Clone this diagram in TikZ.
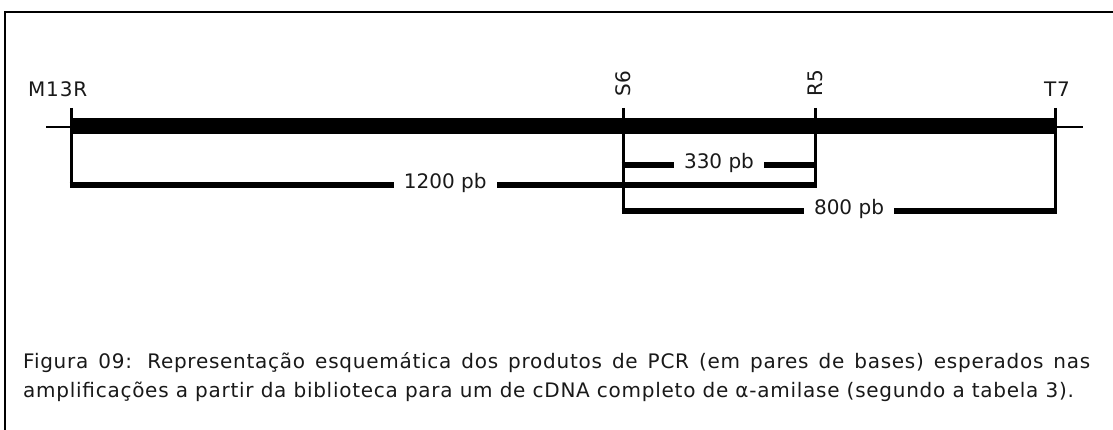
\documentclass[tikz,border=0pt]{standalone}
\usepackage{fontspec}
\setmainfont{DejaVu Sans}
\newfontfamily\capfont{DejaVu Sans}[LetterSpace=3.7]
\newfontfamily\primfont{DejaVu Sans}[LetterSpace=4]
\begin{document}
\begin{tikzpicture}[x=1pt,y=-1pt,
  frame/.style={line width=1.6pt, black},
  axisline/.style={line width=2.6pt},
  insertbar/.style={line width=16pt},
  tick/.style={line width=3pt},
  product/.style={line width=6pt},
  lbl/.style={font=\fontsize{20}{23}\selectfont, text=black!90},
  primer/.style={font=\fontsize{20}{23}\selectfont\primfont, text=black!90, inner sep=0pt},
  caption/.style={font=\fontsize{20}{23}\selectfont\capfont, text=black!90, inner sep=0pt, anchor=base west},
  prodlbl/.style={lbl, fill=white, inner xsep=10pt, inner ysep=2pt, anchor=base, yshift=-3.5pt},
]
\useasboundingbox (0,0) rectangle (1113,430);
\fill[white] (0,0) rectangle (1113,430);
% frame
\coordinate (fbl) at (5,430);
\coordinate (ftl) at (5,12);
\coordinate (ftr) at (1113,12);
\draw[frame] (fbl) -- (ftl) -- (ftr);
% axis
\coordinate (axL) at (46,127);
\coordinate (axR) at (1083,127);
\draw[axisline] (axL) -- (axR);
% primer positions
\coordinate (pM) at (71,126);
\coordinate (pS) at (623,126);
\coordinate (pR) at (815,126);
\coordinate (pT) at (1055,126);
\draw[insertbar] (pM) -- (pT);
% ticks
\coordinate (tMtop) at (71,108);   \coordinate (tMbot) at (71,188.5);
\coordinate (tStop) at (623,108);  \coordinate (tSbot) at (623,214);
\coordinate (tRtop) at (815,108);  \coordinate (tRbot) at (815,188.5);
\coordinate (tTtop) at (1055,108); \coordinate (tTbot) at (1055,214);
\draw[tick] (tMtop) -- (tMbot);
\draw[tick] (tStop) -- (tSbot);
\draw[tick] (tRtop) -- (tRbot);
\draw[tick] (tTtop) -- (tTbot);
% products
\coordinate (a1) at (621.5,165.5); \coordinate (a2) at (816.5,165.5);
\coordinate (b1) at (69.5,185.5);  \coordinate (b2) at (816.5,185.5);
\coordinate (c1) at (621.5,211);   \coordinate (c2) at (1056.5,211);
\draw[product] (a1) -- (a2) node[prodlbl, pos=0.5] (l330) {330 pb};
\draw[product] (b1) -- (b2) node[prodlbl, pos=0.503] (l1200) {1200 pb};
\draw[product] (c1) -- (c2) node[prodlbl, pos=0.523] (l800) {800 pb};
% primer names
\node[primer, anchor=base west] (nM) at (28,97) {M13R};
\node[primer, anchor=base] (nT) at (1057,97) {T7};
\node[primer, rotate=90, anchor=base west] (nS) at (630,97) {S6};
\node[primer, rotate=90, anchor=base west] (nR) at (822,97) {R5};
% caption
\node[caption] (cap1) at (23,368)
  {\makebox[1067pt][s]{Figura 09: Representação esquemática dos produtos de PCR (em pares de bases) esperados nas}};
\node[caption] (cap2) at (23,397)
  {amplificações a partir da biblioteca para um de cDNA completo de α-amilase (segundo a tabela 3).};
\end{tikzpicture}
\end{document}
